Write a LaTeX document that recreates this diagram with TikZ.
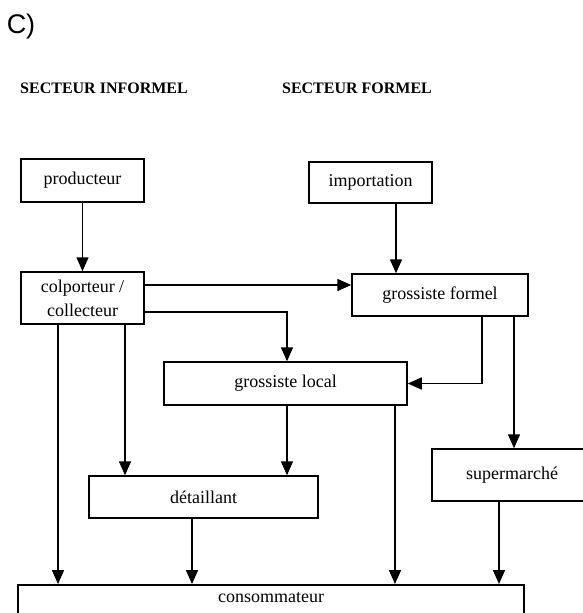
\documentclass[tikz,border=0pt]{standalone}
\usepackage{fontspec}
\setmainfont{Liberation Serif}
\newfontfamily\labelfont{Liberation Sans}
\usetikzlibrary{arrows.meta,positioning}

\begin{document}
\begin{tikzpicture}[x=1pt,y=-1pt,
   box/.style={draw,line width=1.5pt,inner sep=0pt,align=center,
     font=\fontsize{18}{24}\selectfont},
   arr/.style={line width=1.5pt,-{Triangle[width=12pt,length=14pt]}},
   sector/.style={font=\fontsize{16}{18}\selectfont\bfseries}]
\useasboundingbox (0,0) rectangle (582,613);

\node[font=\labelfont\fontsize{27}{30}\selectfont] (part) at (21,27) {C)};
\node[sector] (infsec) at (104,88) {SECTEUR INFORMEL};
\node[sector] (forsec) at (357,88) {SECTEUR FORMEL};

\node[box,minimum width=123pt,minimum height=43pt] (prod) at (82.5,180.5) {producteur};
\node[box,minimum width=123pt,minimum height=41pt] (imp) at (370.5,182.5) {importation};
\node[box,minimum width=123pt,minimum height=52pt] (colp) at (82.5,298) {colporteur /\\collecteur};
\node[box,minimum width=176pt,minimum height=42pt] (gf) at (440,295) {grossiste formel};
\node[box,minimum width=243pt,minimum height=43pt] (gl) at (285.5,383.5) {grossiste local};
\node[box,minimum width=229pt,minimum height=42pt] (det) at (203.5,497) {détaillant};
\node[box,minimum width=160pt,minimum height=52pt] (sup) at (512,475) {supermarché};
\node[box,minimum width=506pt,anchor=north,text height=18pt,text depth=26pt] (cons) at (271,584) {consommateur};

\coordinate (lft) at (58,0);
\coordinate (mid) at (125,0);
\coordinate (dtl) at (192,0);
\coordinate (loc) at (287,0);
\coordinate (dir) at (395,0);
\coordinate (imx) at (396,0);
\coordinate (spc) at (499,0);
\coordinate (frl) at (482,0);
\coordinate (frs) at (514,0);
\coordinate (hi) at (0,285);
\coordinate (lo) at (0,312);

\draw[arr] (prod) -- (colp);
\draw[arr] (imp.south -| imx) -- (gf.north -| imx);
\draw[arr] (colp.east |- hi) -- (gf.west |- hi);
\draw[arr] (colp.east |- lo) -| (gl.north -| loc);
\draw[arr] (gf.south -| frl) |- (gl.east);
\draw[arr] (gf.south -| frs) -- (sup.north -| frs);
\draw[arr] (colp.south -| lft) -- (cons.north -| lft);
\draw[arr] (colp.south -| mid) -- (det.north -| mid);
\draw[arr] (gl.south -| loc) -- (det.north -| loc);
\draw[arr] (gl.south -| dir) -- (cons.north -| dir);
\draw[arr] (det.south -| dtl) -- (cons.north -| dtl);
\draw[arr] (sup.south -| spc) -- (cons.north -| spc);
\end{tikzpicture}
\end{document}
